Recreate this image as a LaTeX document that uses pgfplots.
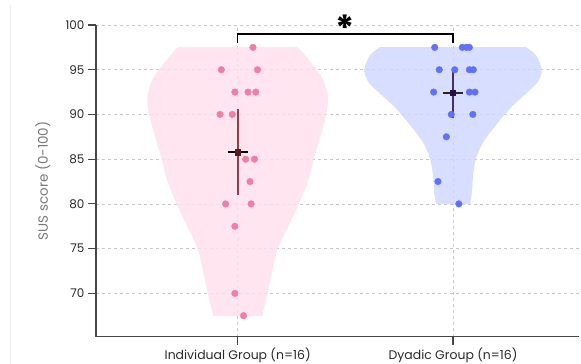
\documentclass[border=0pt]{standalone}
\usepackage{fontspec}
\setmainfont{Poppins}
\usepackage{pgfplots}
\pgfplotsset{compat=1.18}
\definecolor{pinkfill}{RGB}{255,224,236}
\definecolor{pinkdot}{RGB}{243,125,168}
\definecolor{bluefill}{RGB}{208,216,255}
\definecolor{bluedot}{RGB}{96,112,255}
\definecolor{inderr}{RGB}{140,40,60}
\definecolor{dyaerr}{RGB}{60,25,100}
\definecolor{indmean}{RGB}{90,26,37}
\definecolor{dyamean}{RGB}{42,15,69}
\definecolor{axisgray}{RGB}{70,70,70}
\definecolor{labgray}{RGB}{120,120,120}
\definecolor{tickgray}{RGB}{40,40,40}
\begin{document}
\begin{tikzpicture}
\begin{axis}[
  scale only axis, width=483bp, height=311.7bp,
  xmin=-0.658, xmax=1.585, ymin=65.15, ymax=100,
  axis x line*=bottom, axis y line*=left,
  axis line style={-, color=axisgray, line width=1.2bp},
  xtick={0,1}, xticklabels={Individual Group (n=16), Dyadic Group (n=16)},
  ytick={70,75,80,85,90,95,100},
  tick align=outside, major tick length=8bp,
  tick style={color=axisgray, line width=1.2bp},
  grid=major, grid style={dash pattern=on 3bp off 3bp, color=black!22, line width=0.6bp},
  xticklabel style={font=\fontsize{12.5}{13}\selectfont, color=tickgray},
  yticklabel style={font=\fontsize{12}{13}\selectfont, color=tickgray},
  /pgf/number format/assume math mode=true,
  ylabel={SUS score (0-100)},
  ylabel style={font=\fontsize{13.5}{14}\selectfont, color=labgray, at={(axis description cs:-0.11,0.5)}, anchor=center},
  clip=false,
]
% violins
\begin{scope}
\clip (axis cs:-1,67.5) rectangle (axis cs:0.6,97.5);
\addplot[fill=pinkfill, draw=none, fill opacity=0.85, smooth, tension=0.5] coordinates {
 (-0.10,65.5) (-0.114,67.5) (-0.14,70.1) (-0.163,72.75) (-0.186,75) (-0.233,77.4) (-0.284,80) (-0.326,82.5) (-0.353,85) (-0.386,87.7) (-0.41,89.9) (-0.42,91.8) (-0.40,93.7) (-0.36,95.2) (-0.28,97.5) (-0.2,99.2)
 (0.2,99.2) (0.28,97.5) (0.36,95.2) (0.40,93.7) (0.42,91.8) (0.41,89.9) (0.386,87.7) (0.353,85) (0.326,82.5) (0.284,80) (0.233,77.4) (0.186,75) (0.163,72.75) (0.14,70.1) (0.114,67.5) (0.10,65.5)
} -- cycle;
\end{scope}
\begin{scope}
\clip (axis cs:0.5,80) rectangle (axis cs:1.6,97.5);
\addplot[fill=bluefill, draw=none, fill opacity=0.85, smooth, tension=0.5] coordinates {
 (0.925,78.5) (0.921,80) (0.912,81.33) (0.907,83.2) (0.893,85.07) (0.86,86.9) (0.814,88.4) (0.763,89.9) (0.72,91.04) (0.66,92.35) (0.606,93.65) (0.588,95) (0.614,96.6) (0.66,97.5) (0.73,98.6)
 (1.27,98.6) (1.34,97.5) (1.386,96.6) (1.412,95) (1.394,93.65) (1.34,92.35) (1.28,91.04) (1.237,89.9) (1.186,88.4) (1.14,86.9) (1.107,85.07) (1.093,83.2) (1.088,81.33) (1.079,80) (1.075,78.5)
} -- cycle;
\end{scope}
% points
\addplot[only marks, mark=*, mark size=3.3bp, color=pinkdot] coordinates {
 (0.071,97.5) (-0.076,95) (0.092,95) (-0.013,92.5) (0.048,92.5) (0.084,92.5)
 (-0.082,90) (-0.025,90) (0.037,85) (0.078,85) (0.057,82.5) (-0.056,80) (0.062,80)
 (-0.013,77.5) (-0.013,70) (0.027,67.5)
};
\addplot[only marks, mark=*, mark size=3.3bp, color=bluedot] coordinates {
 (0.915,97.5) (1.043,97.5) (1.076,97.5) (1.062,97.5)
 (0.936,95) (1.008,95) (1.076,95) (1.094,95)
 (0.91,92.5) (1.076,92.5) (1.102,92.5)
 (0.992,90) (1.092,90) (0.969,87.5) (0.93,82.5) (1.027,80)
};
% confidence intervals
\addplot[inderr, line width=2.2bp, opacity=0.9] coordinates {(0,80.98) (0,90.58)};
\addplot[dyaerr, line width=2.2bp, opacity=0.9] coordinates {(1,89.6) (1,95.2)};
\addplot[black, line width=1.6bp] coordinates {(-0.047,85.78) (0.047,85.78)};
\addplot[black!85, line width=1.6bp] coordinates {(0.953,92.4) (1.047,92.4)};
\addplot[only marks, mark=square*, mark size=2.6bp, color=indmean] coordinates {(0,85.78)};
\addplot[only marks, mark=square*, mark size=2.6bp, color=dyamean] coordinates {(1,92.4)};
% significance bracket
\addplot[black, line width=1.6bp, sharp plot] coordinates {(0,98) (0,99) (1,99) (1,98)};
\node[anchor=north, inner sep=0pt, font=\fontsize{36}{36}\selectfont\bfseries] at (axis cs:0.5,101.2) {*};
\end{axis}
\draw[black!7, line width=1bp] (-85bp,-27.3bp) -- (-85bp,331.7bp);
\pgfresetboundingbox
\path (-96bp,-27.3bp) rectangle (485bp,336.7bp);
\end{tikzpicture}
\end{document}
